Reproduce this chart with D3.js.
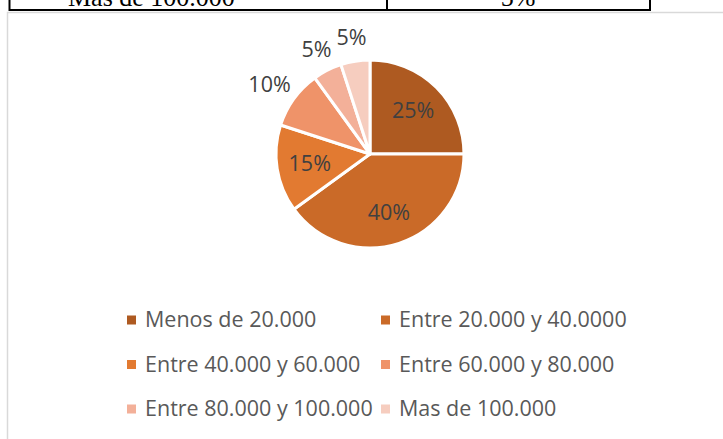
<!DOCTYPE html>
<html>
<head>
<meta charset="utf-8">
<script src="https://cdn.jsdelivr.net/npm/d3@7"></script>
<style>
  html, body { margin: 0; padding: 0; background: #fff; }
  svg { display: block; }
</style>
</head>
<body>
<div id="chart"></div>
<script>
// ---- data ----
const categories = [
  "Menos de 20.000",
  "Entre 20.000 y 40.0000",
  "Entre 40.000 y 60.000",
  "Entre 60.000 y 80.000",
  "Entre 80.000 y 100.000",
  "Mas de 100.000"
];
const shares = [25, 40, 15, 10, 5, 5];
const tableRow = ["Mas de 100.000", "5%"];

// ---- style ----
const palette = ["#AE5A21", "#CA6A28", "#E27A31", "#EF9369", "#F3B099", "#F6CDBF"];
const width = 723, height = 439;
const cx = 370, cy = 154, R = 94;
const labelFont = "'Open Sans', 'Noto Sans', sans-serif";

const svg = d3.select("#chart").append("svg")
  .attr("width", width)
  .attr("height", height);

// ---- table fragment at top (cut off by the page edge) ----
const table = svg.append("g");
table.append("line").attr("x1", 9).attr("x2", 651).attr("y1", 10).attr("y2", 10)
  .attr("stroke", "#000").attr("stroke-width", 2);
[9.5, 387, 650].forEach(x => {
  table.append("line").attr("x1", x).attr("x2", x).attr("y1", 0).attr("y2", 11)
    .attr("stroke", "#000").attr("stroke-width", 2);
});
table.append("text")
  .attr("x", 68).attr("y", 6)
  .style("font-family", "'Liberation Serif', 'DejaVu Serif', serif")
  .style("font-size", "26px")
  .attr("fill", "#000")
  .text(tableRow[0]);
table.append("text")
  .attr("x", 518).attr("y", 6)
  .attr("text-anchor", "middle")
  .style("font-family", "'Liberation Serif', 'DejaVu Serif', serif")
  .style("font-size", "26px")
  .attr("fill", "#000")
  .text(tableRow[1]);

// ---- chart frame ----
svg.append("path")
  .attr("d", `M7.5,${height} V12.5 H${width}`)
  .attr("fill", "none")
  .attr("stroke", "#d9d9d9")
  .attr("stroke-width", 1.5);

// ---- pie ----
const color = d3.scaleOrdinal().domain(categories).range(palette);
const pie = d3.pie().sort(null).value(d => d.value);
const arcs = pie(categories.map((c, i) => ({ name: c, value: shares[i] })));
const arc = d3.arc().innerRadius(0).outerRadius(R);
const inner = d3.arc().innerRadius(61).outerRadius(61);

const g = svg.append("g").attr("transform", `translate(${cx},${cy})`);

g.selectAll("path.slice")
  .data(arcs)
  .enter()
  .append("path")
  .attr("class", "slice")
  .attr("d", arc)
  .attr("fill", d => color(d.data.name))
  .attr("stroke", "#fff")
  .attr("stroke-width", 3)
  .attr("stroke-linejoin", "round");

// labels: inside for big slices, outside for small ones
const total = d3.sum(shares);
g.selectAll("text.lbl")
  .data(arcs)
  .enter()
  .append("text")
  .attr("class", "lbl")
  .attr("text-anchor", "middle")
  .attr("dy", "0.35em")
  .style("font-family", labelFont)
  .style("font-size", "21.5px")
  .attr("fill", "#404040")
  .text(d => Math.round(d.data.value / total * 100) + "%")
  .attr("transform", function (d) {
    if (d.data.value >= 15) {
      const [x, y] = inner.centroid(d);
      return `translate(${x},${y})`;
    }
    const a = (d.startAngle + d.endAngle) / 2;
    const bb = this.getBBox();
    const r = R + 9;
    const x = r * Math.sin(a) + bb.width / 2 * Math.sin(a);
    const y = -r * Math.cos(a) - bb.height / 2 * Math.cos(a);
    return `translate(${x},${y})`;
  });

// ---- legend ----
const colX = d3.scaleOrdinal().domain([0, 1]).range([127, 381]);
const rowY = d3.scaleLinear().domain([0, 1]).range([327, 371.5]);

const leg = svg.append("g").selectAll("g")
  .data(categories)
  .enter()
  .append("g")
  .attr("transform", (d, i) => `translate(${colX(i % 2)},${rowY(Math.floor(i / 2))})`);

leg.append("rect")
  .attr("x", 0).attr("y", -11.5)
  .attr("width", 9).attr("height", 9)
  .attr("fill", d => color(d));

leg.append("text")
  .attr("x", 18)
  .attr("y", 0)
  .style("font-family", labelFont)
  .style("font-size", "21.5px")
  .attr("fill", "#595959")
  .text(d => d);
</script>
</body>
</html>
